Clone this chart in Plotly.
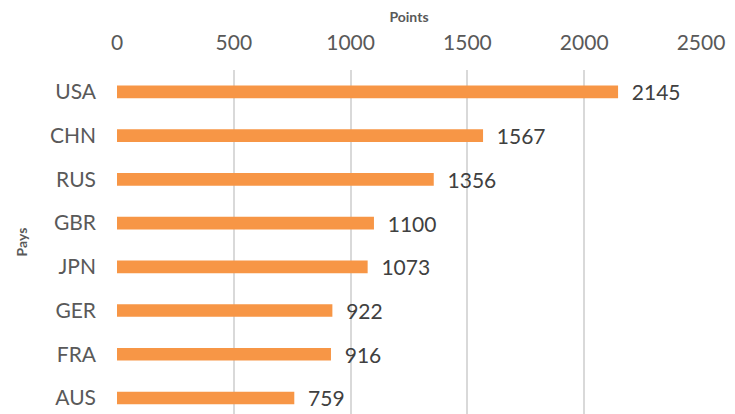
import plotly.graph_objects as go

countries = ["AUS", "FRA", "GER", "JPN", "GBR", "RUS", "CHN", "USA"]
points = [759, 916, 922, 1073, 1100, 1356, 1567, 2145]

FONT = "Lato"
GREY = "#595959"

fig = go.Figure(
    go.Bar(
        x=points,
        y=countries,
        orientation="h",
        width=0.29,
        marker=dict(color="#F79646", line_width=0),
        text=points,
        texttemplate="\u00a0\u00a0%{text}",
        textposition="outside",
        constraintext="none",
        textfont=dict(family=FONT, size=21, color="#404040"),
        cliponaxis=False,
    )
)

# the page body has an 8px margin, so the figure is sized to fit inside it
fig.update_layout(
    width=727,
    height=406,
    margin=dict(l=109, r=34, t=62, b=0),
    plot_bgcolor="white",
    paper_bgcolor="white",
    font=dict(family=FONT, color=GREY),
    showlegend=False,
    xaxis=dict(
        side="top",
        range=[0, 2500],
        dtick=500,
        automargin=False,
        showgrid=True,
        gridcolor="#d9d9d9",
        gridwidth=1.5,
        zeroline=False,
        ticks="",
        ticklabelstandoff=15,
        tickfont=dict(family=FONT, size=21, color=GREY),
        title=dict(text="<b>Points</b>", font=dict(family=FONT, size=14, color=GREY), standoff=4),
    ),
    yaxis=dict(
        type="category",
        range=[-0.366, 7.5],
        automargin=False,
        showgrid=False,
        zeroline=False,
        ticks="",
        ticklabelstandoff=20,
        tickfont=dict(family=FONT, size=21, color=GREY),
        title=dict(text="<b>Pays</b>", font=dict(family=FONT, size=14, color=GREY), standoff=18),
    ),
)

fig.write_html("out.html")
